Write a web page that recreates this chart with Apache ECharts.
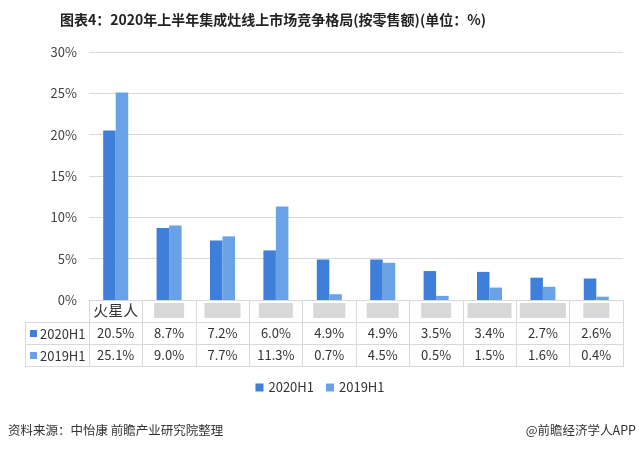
<!DOCTYPE html>
<html><head><meta charset="utf-8">
<script src="https://cdn.jsdelivr.net/npm/echarts@6/dist/echarts.min.js"></script>
<style>html,body{margin:0;padding:0;background:#fff}#c{width:640px;height:449px}</style>
</head><body><div id="c"></div>
<script>
const categories = ['火星人', '', '', '', '', '', '', '', '', ''];
const blurWidths = [0, 30, 36, 34, 32, 32, 30, 44, 46, 26];
const seriesNames = ['2020H1', '2019H1'];
const values2020 = [20.5, 8.7, 7.2, 6.0, 4.9, 4.9, 3.5, 3.4, 2.7, 2.6];
const values2019 = [25.1, 9.0, 7.7, 11.3, 0.7, 4.5, 0.5, 1.5, 1.6, 0.4];
const yTicks = [0, 5, 10, 15, 20, 25, 30];
const colors = ['#3E7FD9', '#6AA2E8'];

const FONT = '"Noto Sans CJK SC", "Noto Sans", sans-serif';
const chart = echarts.init(document.getElementById('c'));
const fmt = v => v.toFixed(1) + '%';
const gridLeft = 89, gridRight = 17, gridTop = 52, gridBottom = 149;
const lineColor = '#d9d9d9';

const rich = {};
blurWidths.forEach((w, i) => {
  rich['b' + i] = { width: w, height: 15, backgroundColor: '#d8d8d8' };
});

chart.setOption({
  animation: false,
  title: {
    text: '图表4：2020年上半年集成灶线上市场竞争格局(按零售额)(单位：%)',
    left: 55, top: 8,
    textStyle: { fontFamily: FONT, fontSize: 14, fontWeight: 'bold', color: '#222' }
  },
  legend: {
    data: seriesNames, bottom: 50, left: 'center',
    icon: 'rect', itemWidth: 8, itemHeight: 8, itemGap: 12,
    textStyle: { fontFamily: FONT, fontSize: 13, color: '#333' }
  },
  grid: { left: gridLeft, right: gridRight, top: gridTop, bottom: gridBottom },
  xAxis: [
    {
      type: 'category', data: categories, position: 'bottom',
      axisLine: { lineStyle: { color: lineColor } },
      axisTick: { show: true, interval: 0, length: 67, lineStyle: { color: lineColor } },
      axisLabel: {
        interval: 0, margin: 3, fontFamily: FONT, fontSize: 15, color: '#333',
        formatter: (v, i) => v ? v : '{b' + i + '|}', rich: rich
      }
    },
    {
      type: 'category', data: values2020.map(fmt), position: 'bottom', offset: 23,
      axisLine: { show: false }, axisTick: { show: false },
      axisLabel: { interval: 0, margin: 4, fontFamily: FONT, fontSize: 13, color: '#333' }
    },
    {
      type: 'category', data: values2019.map(fmt), position: 'bottom', offset: 45,
      axisLine: { show: false }, axisTick: { show: false },
      axisLabel: { interval: 0, margin: 4, fontFamily: FONT, fontSize: 13, color: '#333' }
    }
  ],
  yAxis: {
    type: 'value', min: yTicks[0], max: yTicks[yTicks.length - 1], interval: 5,
    axisLine: { show: false }, axisTick: { show: false },
    axisLabel: { formatter: '{value}%', margin: 12, fontFamily: FONT, fontSize: 13, color: '#444' },
    splitLine: { lineStyle: { color: lineColor } }
  },
  series: [
    { name: seriesNames[0], type: 'bar', xAxisIndex: 0, data: values2020, barWidth: 12.5, barGap: '0%', itemStyle: { color: colors[0] } },
    { name: seriesNames[1], type: 'bar', xAxisIndex: 0, data: values2019, barWidth: 12.5, barGap: '0%', itemStyle: { color: colors[1] } }
  ],
  graphic: [
    { type: 'line', shape: { x1: 25, y1: 322.5, x2: 640 - gridRight, y2: 322.5 }, style: { stroke: lineColor, lineWidth: 1 } },
    { type: 'line', shape: { x1: 25, y1: 344.5, x2: 640 - gridRight, y2: 344.5 }, style: { stroke: lineColor, lineWidth: 1 } },
    { type: 'line', shape: { x1: 25, y1: 366.5, x2: 640 - gridRight, y2: 366.5 }, style: { stroke: lineColor, lineWidth: 1 } },
    { type: 'line', shape: { x1: 25.5, y1: 322.5, x2: 25.5, y2: 366.5 }, style: { stroke: lineColor, lineWidth: 1 } },
    { type: 'rect', shape: { x: 30, y: 330, width: 7, height: 7 }, style: { fill: colors[0] } },
    { type: 'text', x: 40, y: 334, style: { text: seriesNames[0], fontFamily: FONT, fontSize: 13, fill: '#333', verticalAlign: 'middle' } },
    { type: 'rect', shape: { x: 30, y: 352, width: 7, height: 7 }, style: { fill: colors[1] } },
    { type: 'text', x: 40, y: 356, style: { text: seriesNames[1], fontFamily: FONT, fontSize: 13, fill: '#333', verticalAlign: 'middle' } },
    { type: 'text', x: 8, y: 430, style: { text: '资料来源：中怡康 前瞻产业研究院整理', fontFamily: FONT, fontSize: 12.5, fill: '#333', verticalAlign: 'middle' } },
    { type: 'text', x: 636, y: 430, style: { text: '@前瞻经济学人APP', fontFamily: FONT, fontSize: 12.5, fill: '#333', align: 'right', verticalAlign: 'middle' } }
  ]
});
</script></body></html>
